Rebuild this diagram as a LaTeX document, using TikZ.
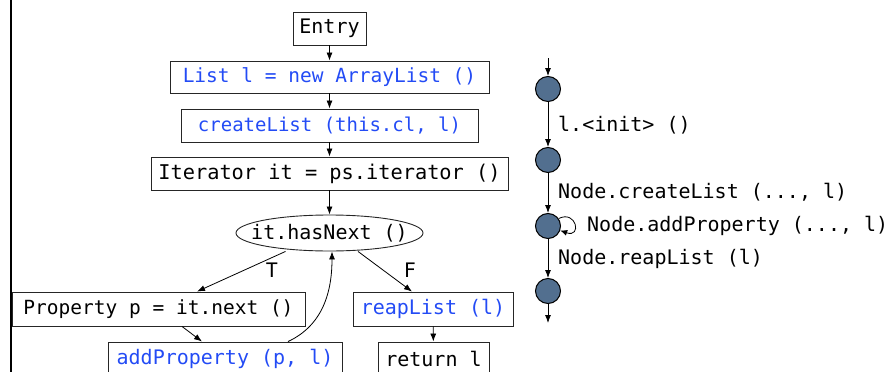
\documentclass[tikz,border=0pt]{standalone}
\usepackage{fontspec}
\setmonofont{DejaVu Sans Mono}
\usetikzlibrary{shapes.geometric,arrows.meta,calc}
\definecolor{codeblue}{RGB}{35,75,245}
\definecolor{dotfill}{RGB}{82,111,143}
\begin{document}
\begin{tikzpicture}[x=1pt,y=-1pt,
  every node/.style={font=\ttfamily\fontsize{20}{23}\selectfont},
  fsz/.style={font=\ttfamily\fontsize{#1}{23}\selectfont},
  stmt/.style={draw=black!85,line width=0.9pt,rectangle,inner sep=0pt,minimum height=33pt},
  callbox/.style={stmt,text=codeblue},
  cond/.style={draw=black!85,line width=0.9pt,ellipse,inner sep=0pt,minimum width=187pt,minimum height=36pt},
  dot/.style={circle,draw=black,line width=1pt,fill=dotfill,minimum size=25pt,inner sep=0pt},
  arr/.style={-{Latex[length=8pt,width=6pt]},line width=0.8pt},
  lbl/.style={anchor=west,inner sep=0pt},
  edgelbl/.style={inner sep=0pt}
]
\clip (0,0) rectangle (895,372);
\useasboundingbox (0,0) rectangle (895,372);
% left rule
\coordinate (rt) at (11,0);
\coordinate (rb) at (11,372);
\draw[line width=1.5pt] (rt) -- (rb);
% flow graph
\node[stmt,minimum width=73pt] (entry) at (329.5,28.5) {Entry};
\node[callbox,fsz=19.5,minimum width=319pt,minimum height=32pt] (list) at (329.5,77) {List l = new ArrayList ()};
\node[callbox,fsz=19,minimum width=297pt] (create) at (329.5,125.5) {createList (this.cl, l)};
\node[stmt,fsz=20.3,minimum width=357pt] (iter) at (329.5,173.5) {Iterator it = ps.iterator ()};
\node[cond] (has) at (329.5,233) {\makebox[0pt][c]{it.hasNext ()}};
\node[stmt,fsz=19.5,minimum width=293pt,minimum height=34pt] (prop) at (158.5,309) {Property p = it.next ()};
\node[callbox,minimum width=160pt,minimum height=34pt] (reap) at (433,309) {reapList (l)};
\node[callbox,minimum width=234pt] (add) at (225,358.5) {addProperty (p, l)};
\node[stmt,minimum width=111pt] (ret) at (433.5,358.5) {return l};
\draw[arr] (entry) -- (list);
\draw[arr] (list) -- (create);
\draw[arr] (create) -- (iter);
\draw[arr] (iter) -- (has);
\draw[arr] ([xshift=-44pt]has.south) -- ([xshift=38.5pt]prop.north);
\draw[arr] ([xshift=28.5pt]has.south) -- ([xshift=-21pt]reap.north);
\node[edgelbl] (tl) at (272,270) {T};
\node[edgelbl] (fl) at (410,270) {F};
\draw[arr] ([xshift=23.5pt]prop.south) -- ([xshift=-23pt]add.north);
\draw[arr] ([xshift=63pt]add.north) to[out=25,in=-90] ([xshift=2.5pt]has.south);
\draw[arr] (reap) -- (ret);
% right: state machine
\coordinate (top) at (548,58);
\node[dot] (c1) at (548,89) {};
\node[dot] (c2) at (548,160) {};
\node[dot] (c3) at (548,226) {};
\node[dot] (c4) at (548,291) {};
\coordinate (bot) at (548,323);
\draw[arr] (top) -- (c1);
\draw[arr] (c1) -- (c2);
\draw[arr] (c2) -- (c3);
\draw[arr] (c3) -- (c4);
\draw[arr] (c4) -- (bot);
\draw[-{Latex[length=7pt,width=6pt]},line width=0.8pt] (c3.35) .. controls +(18pt,9pt) and +(22pt,-8pt) .. (c3.-20);
\node[lbl] (l1) at (558,125) {l.<init> ()};
\node[lbl] (l2) at (558,192) {Node.createList (..., l)};
\node[lbl] (l3) at (587,226) {Node.addProperty (..., l)};
\node[lbl] (l4) at (558,259) {Node.reapList (l)};
\end{tikzpicture}
\end{document}
